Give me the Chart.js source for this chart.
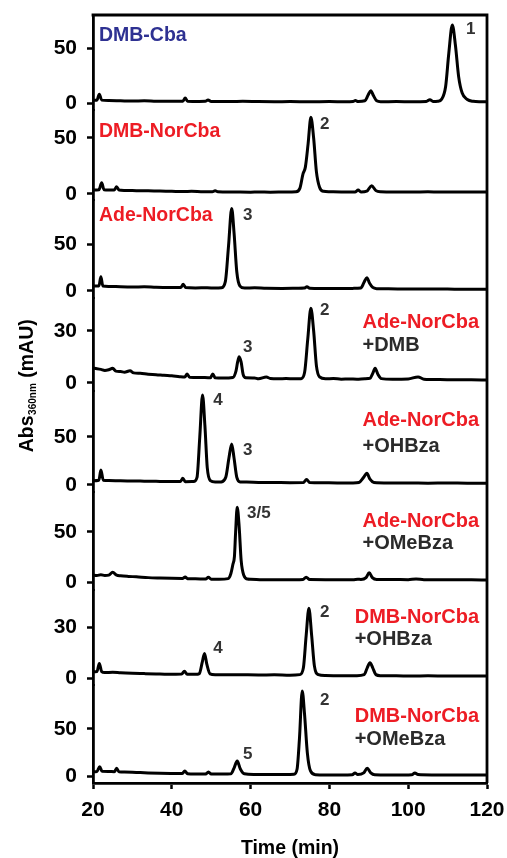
<!DOCTYPE html>
<html>
<head>
<meta charset="utf-8">
<script src="https://cdn.jsdelivr.net/npm/chart.js@4/dist/chart.umd.min.js"></script>
<style>
  html, body { margin: 0; padding: 0; background: #fff; }
  #wrap { width: 507px; height: 858px; }
</style>
</head>
<body>
<div id="wrap"><canvas id="c" width="507" height="858"></canvas></div>
<script>
// ---------- DATA (time in min, absorbance in mAU) ----------
const xTicks = [20, 40, 60, 80, 100, 120];
const yTopTicks = [50, 50, 50, 30, 50, 50, 30, 50];

const panelTitles = ['DMB-Cba', 'DMB-NorCba', 'Ade-NorCba', 'Ade-NorCba', 'Ade-NorCba', 'Ade-NorCba', 'DMB-NorCba', 'DMB-NorCba'];
const panelAdditives = ['', '', '', '+DMB', '+OHBza', '+OMeBza', '+OHBza', '+OMeBza'];

// DMB-Cba
const trace1 = [[20,2.5],[21,2.6],[21.6,8],[22.2,2.6],[24,2.2],[27,2],[30,1.8],[33,2],[36,1.6],[40,1.5],[42.8,1.6],[43.4,4.5],[44,1.6],[47,1.4],[48.5,1.5],[49.2,2.8],[50,1.4],[55,1.3],[58,1.5],[62,1.3],[66,1.2],[70,1.3],[75,1.2],[80,1.3],[84,1.2],[86,1.4],[86.6,2.2],[87.3,1.4],[89,2],[89.8,7],[90.5,11.2],[91.2,6.5],[92,2],[93,1.2],[97,1.3],[101,1.2],[104.6,1.4],[105.5,3],[106.4,1.4],[107.5,1.6],[108.5,3.5],[109.5,15],[110.3,45],[111.2,71],[112,52],[112.8,24],[113.7,9],[115,3.2],[116.5,1.5],[118,1.2],[120,1.2]];
// DMB-NorCba
const trace2 = [[20,3.5],[21.5,3.8],[22.2,10],[22.8,3.8],[24,3.5],[25.4,3.6],[26,6.5],[26.6,3.5],[28,3.2],[31,3],[34,2.8],[37,2.6],[40,2.4],[43,2.2],[45,2.4],[48,2],[50.3,2],[51,3],[51.7,2],[55,1.8],[60,1.6],[62,1.8],[65,1.6],[69,1.8],[71.5,2],[72.5,5],[73.3,18],[73.9,24],[74.6,45],[75.3,68.5],[76,50],[76.7,20],[77.5,6],[78.5,2.4],[80,2],[83,1.8],[86.5,1.8],[87.3,3.5],[88,1.8],[89.5,2.5],[90.7,7.4],[91.8,3],[93,2],[97,1.8],[101,1.7],[105,1.9],[108,1.8],[112,1.8],[116,1.7],[120,1.7]];
// Ade-NorCba
const trace3 = [[20,5],[21.5,5],[22,15],[22.5,5],[24,4.6],[27,4.2],[30,4],[33,4.2],[36,3.6],[40,3.4],[42.3,3.5],[42.9,7],[43.5,3.4],[46,3],[49,3.2],[51,2.8],[52.6,3.2],[53.6,10],[54.4,48],[55.2,88],[55.8,62],[56.5,20],[57.3,5],[58.5,2.8],[61,3.2],[64,2.6],[68,2.5],[72,2.6],[73.6,2.8],[74.3,4.2],[75,2.6],[78,2.4],[82,2.3],[86,2.5],[88,3],[88.8,9],[89.5,14],[90.2,8],[91,3.5],[92,2.2],[95,2],[100,1.8],[105,1.8],[110,1.7],[115,1.6],[120,1.6]];
// Ade-NorCba +DMB
const trace4 = [[20,8.5],[21,8.2],[22,7.8],[23,7.2],[24,7.6],[25,8.4],[25.8,6.8],[27,6.6],[28,6.2],[29.4,7],[30.3,5.8],[32,5.6],[34,5],[36,4.8],[38,4.4],[40,4.1],[42,3.6],[43.3,3.4],[43.9,5.2],[44.5,3.3],[47,3.2],[49.8,3],[50.4,5.2],[51,3],[53,2.9],[55.5,3.2],[56.3,7],[56.7,12],[57.1,15.1],[57.6,12],[58.1,5],[58.8,3],[61,2.9],[62,2.4],[64,3.4],[65,2.6],[67,2.4],[69,2.6],[71,2.4],[72.8,2.5],[73.7,6],[74.5,25],[75.3,42.9],[76,30],[76.7,10],[77.5,3.5],[79,2.4],[81,2.6],[83,2.2],[85,2.3],[87,2.2],[89,2.5],[90.3,2.7],[91,5.5],[91.6,8.4],[92.3,5],[93.2,2.5],[96,2.2],[100,2.3],[102.5,3.5],[104,2.2],[108,2],[112,1.8],[116,1.8],[120,1.7]];
// Ade-NorCba +OHBza
const trace5 = [[20,4.5],[21.5,5],[22,15.6],[22.6,5],[24,4.6],[27,4.3],[30,4.2],[33,4],[36,3.8],[39,3.6],[42.2,3.6],[42.8,7],[43.4,3.5],[45.5,3.6],[46.4,8],[47.1,50],[47.8,93.7],[48.4,62],[49,18],[49.8,4.5],[51,3],[52.5,3.2],[53.7,8],[54.5,28],[55.2,42.7],[55.8,28],[56.5,8],[57.4,3.2],[59,3],[62,2.7],[66,2.6],[70,2.4],[73.4,2.5],[74.2,5.8],[75,2.5],[78,2.3],[82,2.2],[86,2.2],[87.5,2.6],[88.7,8],[89.5,12.2],[90.3,6],[91.3,2.5],[95,2],[100,2],[105,1.9],[110,2],[115,1.9],[120,1.9]];
// Ade-NorCba +OMeBza
const trace6 = [[20,7.6],[21,7],[22,7.8],[23,7],[24,7.4],[25,10.2],[26,7.4],[27,6.8],[29,6.2],[31,5.8],[34,5],[37,4.6],[40,4.3],[42.7,4.2],[43.4,5.5],[44,4],[46,3.8],[48.6,3.6],[49.3,5.3],[50,3.5],[52,3.4],[54.3,4],[55,9],[55.5,18],[55.9,26],[56.2,50],[56.6,74.4],[57.1,55],[57.6,22],[58.3,7],[59.2,3.6],[60,3.4],[63,3],[67,2.9],[71,3],[73.3,3.2],[74.1,5.4],[75,3.1],[79,3],[83,3],[86,3],[87.2,3.4],[88,3.2],[89.3,5],[90.1,9.9],[90.9,5],[92,3.2],[96,3.2],[100,3],[102,3.6],[104,3],[108,3],[112,2.8],[116,2.8],[120,2.7]];
// DMB-NorCba +OHBza
const trace7 = [[20,3.7],[21,3.8],[21.6,8.6],[22.2,3.8],[23,3.2],[25,3.4],[27,3.1],[30,2.8],[33,2.6],[36,2.4],[39,2.2],[42.5,2.3],[43.2,4],[43.9,2.2],[46,2.2],[47,2.6],[47.7,9],[48.3,14.5],[48.9,8],[49.7,2.5],[51,2],[54,2],[58,1.9],[62,1.8],[66,1.9],[70,1.7],[72.5,2],[73.4,6],[74.1,25],[74.8,41],[75.5,25],[76.2,7],[77.2,2],[79,1.5],[83,1.4],[87,1.4],[88.8,2],[89.6,6],[90.3,9],[91,6],[91.8,2],[93,1.4],[97,1.3],[101,1.2],[105,1.3],[110,1.2],[115,1.2],[120,1.2]];
// DMB-NorCba +OMeBza
const trace8 = [[20,5.2],[21,5.5],[21.7,10.5],[22.3,5.6],[24,5.5],[25.4,5.2],[26,8.8],[26.6,5.2],[28,5],[31,4.5],[34,4],[37,3.6],[40,3.4],[42.6,3.3],[43.3,6],[44,3.1],[46,2.9],[48.6,2.8],[49.3,5],[50,2.8],[53,2.8],[55,3],[55.8,9],[56.6,16.4],[57.4,8],[58.4,3],[61,2.4],[65,2.2],[69,2.2],[71,2.5],[71.8,8],[72.4,40],[73.1,89.8],[73.7,65],[74.4,25],[75.2,6],[76.5,2],[79,1.8],[83,1.8],[85.8,2],[86.5,4],[87.2,2.2],[88.7,4],[89.6,8.8],[90.5,4],[91.5,2],[95,1.8],[99,1.8],[100.9,2],[101.7,4],[102.5,2.2],[106,1.8],[110,1.9],[115,1.8],[120,1.8]];

const traces = [trace1, trace2, trace3, trace4, trace5, trace6, trace7, trace8];

// Peak numbers: [panel index, time, absorbance, text]
const peakLabels = [
  [0, 114.7, 67, '1'],
  [1, 77.6, 62.5, '2'],
  [2, 58.1, 81, '3'],
  [3, 58.1, 20.7, '3'], [3, 77.6, 41.9, '2'],
  [4, 50.5, 88.5, '4'], [4, 58.1, 36.5, '3'],
  [5, 59.1, 68.7, '3/5'],
  [6, 50.5, 17.6, '4'], [6, 77.6, 38.8, '2'],
  [7, 77.6, 80.4, '2'], [7, 58.1, 23.8, '5']
];

// ---------- LAYOUT / STYLE ----------
const FONT = '"Liberation Sans", Arial, Helvetica, sans-serif';
const panelPx = [95, 90, 98, 93, 101, 98, 95, 98];          // panel heights in px
const panelMin = [-6.36, -5.36, -7.8, -4.6, -7.3, -7.2, -4.1, -6.6];
const panelMax = [80, 75, 97.1, 48.8, 97.9, 89.4, 51.8, 96.1];
const titleColors = ['#2E3192', '#ED1C24', '#ED1C24', '#ED1C24', '#ED1C24', '#ED1C24', '#ED1C24', '#ED1C24'];
const titleSide = ['left', 'left', 'left', 'right', 'right', 'right', 'right', 'right'];
const titleYval = [61, 56, 80, 35, 66.7, 59.9, 35.9, 62.6];
const addYval = [null, null, null, 21.8, 40.6, 38.2, 22.4, 39.5];
const leftLabelTime = 21.5;
const rightLabelTime = 118;

Chart.defaults.font.family = FONT;
Chart.defaults.color = '#000';

const scales = {
  x: {
    type: 'linear', position: 'bottom', min: 20, max: 120,
    afterBuildTicks: s => { s.ticks = xTicks.map(v => ({ value: v })); },
    afterFit: s => { s.height = 75; s.paddingLeft = 0; s.paddingRight = 0; },
    ticks: { font: { size: 21, weight: 'bold' }, color: '#000', padding: 9, maxRotation: 0 },
    grid: { drawOnChartArea: false, drawTicks: true, tickLength: 6, tickWidth: 2.5, color: '#000' },
    border: { display: true, color: '#000', width: 2.8 },
    title: { display: true, text: 'Time (min)', color: '#000', font: { size: 19.5, weight: 'bold' }, padding: { top: 0, bottom: -2 } }
  }
};
traces.forEach((tr, i) => {
  scales['y' + i] = {
    type: 'linear', position: 'left', stack: 'panels', stackWeight: panelPx[i], weight: 10 - i,
    min: panelMin[i], max: panelMax[i],
    afterBuildTicks: s => { s.ticks = [{ value: 0 }, { value: yTopTicks[i] }]; },
    afterFit: s => { s.width = 93; s.paddingTop = 0; s.paddingBottom = 0; },
    ticks: { font: { size: 21, weight: 'bold' }, color: '#000', padding: 10, callback: v => String(v) },
    grid: { drawOnChartArea: false, drawTicks: true, tickLength: 6, tickWidth: 2.5, color: '#000' },
    border: { display: true, color: '#000', width: 2.8 }
  };
});

const datasets = traces.map((tr, i) => ({
  label: panelTitles[i] + (panelAdditives[i] ? ' ' + panelAdditives[i] : ''),
  data: tr.map(p => ({ x: p[0], y: p[1] })),
  yAxisID: 'y' + i,
  borderColor: '#000',
  borderWidth: 3,
  pointRadius: 0,
  fill: false,
  cubicInterpolationMode: 'monotone'
}));

const decorPlugin = {
  id: 'decor',
  afterDraw(chart) {
    const ctx = chart.ctx;
    const a = chart.chartArea;
    const xs = chart.scales.x;
    ctx.save();
    // frame: top and right
    ctx.strokeStyle = '#000';
    ctx.lineWidth = 2.8;
    ctx.beginPath();
    ctx.moveTo(a.left - 1.4, a.top);
    ctx.lineTo(a.right, a.top);
    ctx.lineTo(a.right, a.bottom);
    ctx.stroke();

    // panel titles
    ctx.textBaseline = 'middle';
    for (let i = 0; i < traces.length; i++) {
      const ys = chart.scales['y' + i];
      const y1 = ys.getPixelForValue(titleYval[i]);
      if (titleSide[i] === 'left') {
        ctx.font = 'bold 19.5px ' + FONT;
        ctx.textAlign = 'left';
        ctx.fillStyle = titleColors[i];
        ctx.fillText(panelTitles[i], xs.getPixelForValue(leftLabelTime), y1);
      } else {
        ctx.font = 'bold 20px ' + FONT;
        const w = ctx.measureText(panelTitles[i]).width;
        const xr = xs.getPixelForValue(rightLabelTime);
        const xl = xr - w;
        ctx.textAlign = 'left';
        ctx.fillStyle = titleColors[i];
        ctx.fillText(panelTitles[i], xl, y1);
        ctx.fillStyle = '#2b2b2b';
        ctx.fillText(panelAdditives[i], xl, ys.getPixelForValue(addYval[i]));
      }
    }
    // peak numbers
    ctx.font = 'bold 17px ' + FONT;
    ctx.fillStyle = '#333';
    ctx.textAlign = 'left';
    peakLabels.forEach(([p, t, v, txt]) => {
      const ys = chart.scales['y' + p];
      ctx.fillText(txt, xs.getPixelForValue(t), ys.getPixelForValue(v));
    });

    // y-axis title with subscript
    const big = 'bold 19.5px ' + FONT, small = 'bold 10px ' + FONT;
    ctx.font = big; const w1 = ctx.measureText('Abs').width;
    ctx.font = small; const w2 = ctx.measureText('360nm').width;
    ctx.font = big; const w3 = ctx.measureText(' (mAU)').width;
    const total = w1 + w2 + w3;
    const cy = 386, bx = 33;
    ctx.translate(bx, cy + total / 2);
    ctx.rotate(-Math.PI / 2);
    ctx.fillStyle = '#000';
    ctx.textAlign = 'left';
    ctx.textBaseline = 'alphabetic';
    ctx.font = big; ctx.fillText('Abs', 0, 0);
    ctx.font = small; ctx.fillText('360nm', w1 + 0.5, 2.5);
    ctx.font = big; ctx.fillText(' (mAU)', w1 + w2 + 0.5, 0);
    ctx.restore();
  }
};

new Chart(document.getElementById('c'), {
  type: 'line',
  data: { datasets },
  options: {
    responsive: false,
    animation: false,
    events: [],
    layout: { padding: { top: 15, right: 20, left: 0, bottom: 0 } },
    plugins: { legend: { display: false }, tooltip: { enabled: false }, title: { display: false } },
    scales
  },
  plugins: [decorPlugin]
});
</script>
</body>
</html>
